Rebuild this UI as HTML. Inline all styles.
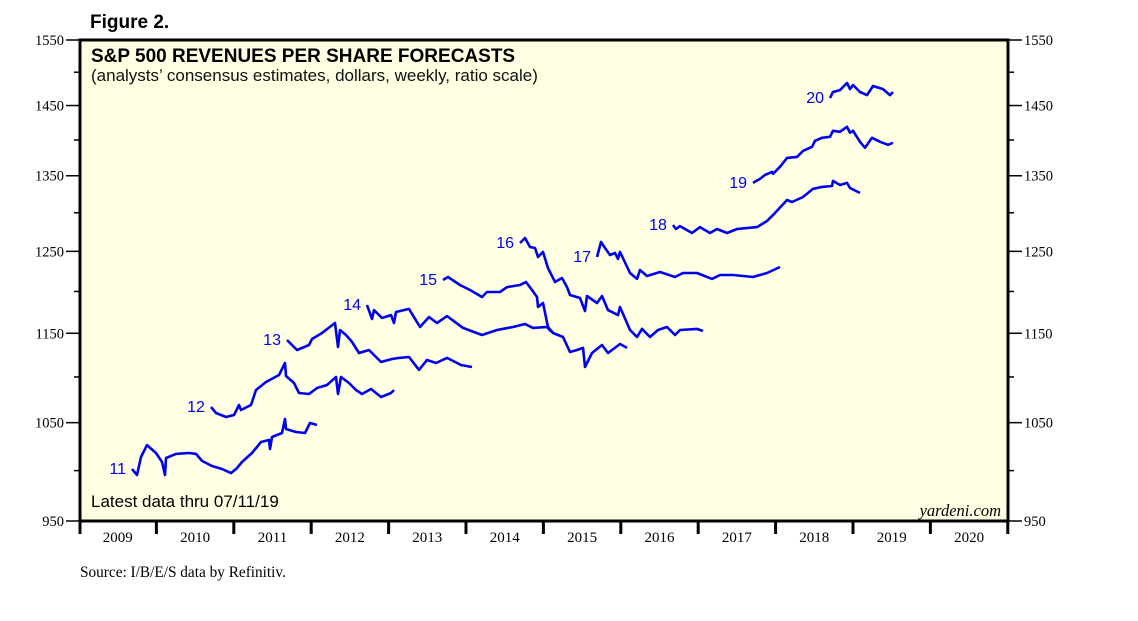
<!DOCTYPE html>
<html><head><meta charset="utf-8"><style>
html,body{margin:0;padding:0;background:#fff;}
body{width:1138px;height:621px;overflow:hidden;position:relative;}
svg{position:absolute;left:0;top:0;}
</style></head><body>
<svg id="chart" width="1138" height="621" viewBox="0 0 1138 621">
<text x="90" y="28" font-family="Liberation Sans, sans-serif" font-weight="bold" font-size="19">Figure 2.</text>
<rect x="80" y="40" width="928" height="481" fill="#FFFFE4"/>
<g id="marks"></g>
<rect x="80" y="40" width="928" height="481" fill="none" stroke="#000" stroke-width="3"/>
<text x="91" y="62" font-family="Liberation Sans, sans-serif" font-weight="bold" font-size="19">S&amp;P 500 REVENUES PER SHARE FORECASTS</text>
<text x="91" y="81" font-family="Liberation Sans, sans-serif" font-size="17" fill="#111">(analysts’ consensus estimates, dollars, weekly, ratio scale)</text>
<text x="91" y="507" font-family="Liberation Sans, sans-serif" font-size="17">Latest data thru 07/11/19</text>
<text x="1001" y="516" text-anchor="end" font-family="Liberation Serif, serif" font-style="italic" font-size="16.5">yardeni.com</text>
<text x="80" y="577" font-family="Liberation Serif, serif" font-size="15.3">Source: I/B/E/S data by Refinitiv.</text>
<g id="axes"></g>
</svg>
<script>
const yTickMajor = [950,1050,1150,1250,1350,1450,1550];
const yTickMinor = [1000,1100,1200,1300,1400,1500];
const years = [2009,2010,2011,2012,2013,2014,2015,2016,2017,2018,2019,2020];
const seriesNames = ["11","12","13","14","15","16","17","18","19","20"];
const t11=[0.685,0.749,0.801,0.879,0.995,1.072,1.111,1.124,1.253,1.421,1.512,1.589,1.718,1.848,1.964,2.041,2.106,2.235,2.351,2.455,2.468,2.494,2.623,2.661,2.674,2.804,2.920,2.984,3.075];
const v11=[1001.6,995.5,1013.9,1026.3,1018.1,1008.8,995.5,1012.9,1017.1,1018.1,1017.1,1009.9,1004.7,1001.6,997.5,1002.6,1008.8,1018.1,1029.5,1031.6,1022.2,1034.8,1039.0,1053.9,1043.2,1040.1,1039.0,1049.6,1047.5];
const t12=[1.705,1.770,1.899,2.003,2.067,2.093,2.222,2.287,2.416,2.584,2.661,2.674,2.778,2.842,2.972,3.075,3.204,3.320,3.346,3.385,3.488,3.579,3.656,3.773,3.902,4.031,4.070];
const v12=[1066.9,1060.4,1056.1,1058.2,1069.1,1063.6,1069.1,1085.5,1094.4,1102.2,1115.7,1101.1,1093.2,1082.2,1081.1,1087.7,1091.0,1100.0,1081.1,1100.0,1093.2,1085.5,1081.1,1086.6,1077.8,1082.2,1085.5];
const t13=[2.687,2.817,2.972,3.010,3.140,3.307,3.346,3.372,3.450,3.527,3.618,3.747,3.902,4.044,4.134,4.264,4.393,4.496,4.612,4.755,4.935,5.078];
const v13=[1142.2,1130.6,1136.4,1143.3,1150.3,1162.1,1134.1,1153.9,1148.0,1139.9,1127.2,1130.6,1116.9,1120.3,1121.5,1122.6,1107.9,1119.2,1115.7,1121.5,1113.5,1111.2];
const t14=[3.721,3.786,3.811,3.915,4.031,4.070,4.096,4.264,4.406,4.522,4.625,4.755,4.961,5.207,5.401,5.607,5.762,5.866,6.047,6.100];
const v14=[1183.6,1166.8,1177.5,1168.0,1171.5,1162.1,1175.2,1178.9,1157.4,1169.2,1162.1,1170.3,1156.3,1148.0,1153.9,1157.4,1160.9,1156.3,1157.4,1152.0];
const t15=[4.703,4.767,4.922,5.052,5.207,5.271,5.439,5.530,5.698,5.775,5.853,5.917,5.930,5.995,6.059,6.124,6.253,6.344,6.434,6.512,6.537,6.628,6.757,6.835,6.990,7.080];
const v15=[1214.1,1217.8,1207.9,1201.8,1193.3,1199.4,1199.4,1205.4,1207.9,1211.6,1201.8,1193.3,1181.2,1186.0,1157.4,1150.3,1145.7,1128.3,1130.6,1133.0,1111.2,1127.2,1136.4,1127.2,1137.5,1133.0];
const t16=[5.698,5.762,5.827,5.891,5.930,5.995,6.059,6.150,6.240,6.305,6.344,6.473,6.537,6.563,6.693,6.757,6.835,6.964,6.990,7.119,7.209,7.274,7.377,7.481,7.597,7.700,7.765,7.984,8.062];
const v16=[1260.7,1267.1,1255.6,1254.3,1242.9,1249.3,1228.9,1211.6,1216.6,1205.4,1195.7,1192.0,1176.4,1194.5,1186.0,1194.5,1177.5,1171.5,1181.2,1153.9,1145.7,1155.1,1145.7,1153.9,1157.4,1148.0,1153.9,1155.1,1152.7];
const t17=[6.693,6.744,6.796,6.860,6.925,6.964,6.990,7.119,7.209,7.248,7.339,7.506,7.700,7.804,7.984,8.178,8.282,8.450,8.708,8.889,9.057];
const v17=[1242.9,1262.0,1254.3,1245.4,1248.0,1240.4,1249.3,1222.8,1215.4,1226.5,1219.0,1224.0,1217.8,1222.8,1222.8,1215.4,1220.3,1220.3,1217.8,1222.8,1230.2];
const t18=[7.674,7.713,7.765,7.920,8.023,8.152,8.243,8.372,8.501,8.760,8.889,8.966,9.147,9.212,9.354,9.483,9.599,9.729,9.742,9.832,9.922,9.961,10.090];
const v18=[1283.9,1278.8,1282.6,1273.6,1281.3,1273.6,1278.8,1273.6,1278.8,1281.3,1289.2,1297.0,1317.1,1314.4,1321.1,1332.0,1334.7,1336.0,1342.9,1337.4,1340.2,1333.3,1326.5];
const t19=[8.708,8.798,8.863,8.953,8.966,9.057,9.147,9.276,9.354,9.470,9.509,9.599,9.703,9.742,9.832,9.922,9.961,10.000,10.090,10.155,10.245,10.349,10.452,10.517];
const v19=[1340.2,1345.7,1351.2,1355.3,1352.6,1362.3,1374.8,1376.2,1384.6,1390.3,1398.8,1403.2,1404.6,1413.2,1411.8,1419.0,1410.4,1413.2,1397.4,1388.9,1403.2,1397.4,1393.2,1396.0];
const t20=[9.703,9.742,9.832,9.922,9.961,10.000,10.090,10.181,10.258,10.388,10.478,10.517];
const v20=[1461.1,1470.1,1473.0,1483.7,1474.5,1480.6,1470.1,1465.5,1479.1,1474.5,1465.5,1470.1];

const NS="http://www.w3.org/2000/svg";
const X0=79, YW=77.4, YB=521, YT=40, VMIN=950, VMAX=1550;
function xs(t){return X0+t*YW;}
function xYear(y){return X0+(y-2009)*YW;}
function ys(v){return YB-(Math.log(v/VMIN)/Math.log(VMAX/VMIN))*(YB-YT);}
function mk(tag,attrs,parent){const e=document.createElementNS(NS,tag);for(const k in attrs)e.setAttribute(k,attrs[k]);parent.appendChild(e);return e;}
const marks=document.getElementById('marks'), axes=document.getElementById('axes');
const allT=[t11,t12,t13,t14,t15,t16,t17,t18,t19,t20];
const allV=[v11,v12,v13,v14,v15,v16,v17,v18,v19,v20];
allT.forEach((ts,i)=>{
  const vs=allV[i];
  const d=ts.map((t,j)=>(j?'L':'M')+xs(t).toFixed(1)+' '+ys(vs[j]).toFixed(1)).join(' ');
  const p=mk('path',{d:d,fill:'none',stroke:'#0000EE','stroke-width':2.6,'stroke-linejoin':'round'},marks);
  
  
  const lb=mk('text',{x:xs(ts[0])-6,y:ys(vs[0])+5,'text-anchor':'end','font-family':'Liberation Sans, sans-serif','font-size':16,fill:'#0000EE'},marks);
  lb.textContent=seriesNames[i];
  
  
});
yTickMajor.forEach(v=>{
  const y=ys(v);
  const a=mk('line',{x1:66,x2:80,y1:y,y2:y,stroke:'#000','stroke-width':1.5},axes);
  
  
  const b=mk('line',{x1:1008,x2:1022,y1:y,y2:y,stroke:'#000','stroke-width':1.5},axes);
  
  
  const t1=mk('text',{x:64,y:y+5,'text-anchor':'end','font-family':'Liberation Serif, serif','font-size':14.5},axes);
  t1.textContent=v;
  
  
  const t2=mk('text',{x:1024,y:y+5,'font-family':'Liberation Serif, serif','font-size':14.5},axes);
  t2.textContent=v;
  
  
});
yTickMinor.forEach(v=>{
  const y=ys(v);
  const a=mk('line',{x1:74,x2:80,y1:y,y2:y,stroke:'#000','stroke-width':1.5},axes);
  
  
  const b=mk('line',{x1:1008,x2:1014,y1:y,y2:y,stroke:'#000','stroke-width':1.5},axes);
  
  
});
years.concat([2021]).forEach(yr=>{
  const x=xYear(yr)+(yr===2009?1:0);
  const l=mk('line',{x1:x,x2:x,y1:521,y2:534,stroke:'#000','stroke-width':3},axes);
  
  
});
years.forEach(yr=>{
  const t=mk('text',{x:xYear(yr)+YW/2,y:542,'text-anchor':'middle','font-family':'Liberation Serif, serif','font-size':15},axes);
  t.textContent=yr;
  
  
});
</script>
</body></html>
